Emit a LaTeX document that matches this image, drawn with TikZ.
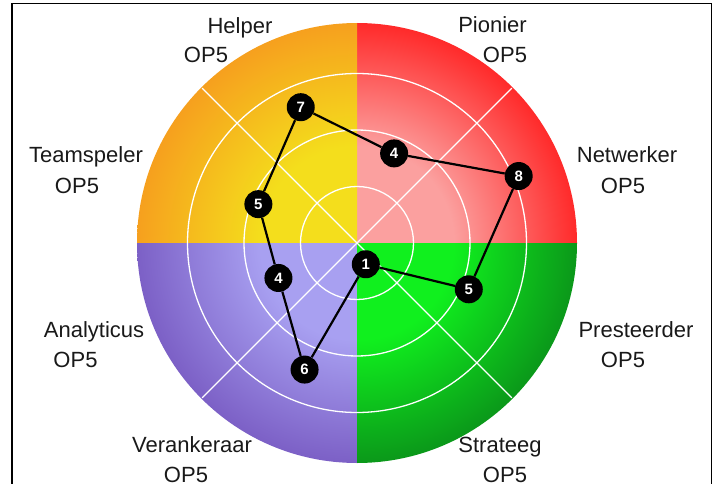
\documentclass[tikz,border=0pt]{standalone}
\usepackage{fontspec}
\setmainfont{Liberation Sans}

\definecolor{yellowin}{HTML}{F4DE1C}
\definecolor{yellowout}{HTML}{F6A01E}
\definecolor{redin}{HTML}{FBA09F}
\definecolor{redout}{HTML}{FF2A2A}
\definecolor{greenin}{HTML}{10F01E}
\definecolor{greenout}{HTML}{0B981A}
\definecolor{purplein}{HTML}{A8A0F1}
\definecolor{purpleout}{HTML}{7C60C6}

\pgfdeclareradialshading{yellowq}{\pgfpoint{0bp}{0bp}}{color(0bp)=(yellowin); color(11bp)=(yellowin); color(25bp)=(yellowout); color(50bp)=(yellowout)}
\pgfdeclareradialshading{redq}{\pgfpoint{0bp}{0bp}}{color(0bp)=(redin); color(11bp)=(redin); color(25bp)=(redout); color(50bp)=(redout)}
\pgfdeclareradialshading{greenq}{\pgfpoint{0bp}{0bp}}{color(0bp)=(greenin); color(11bp)=(greenin); color(25bp)=(greenout); color(50bp)=(greenout)}
\pgfdeclareradialshading{purpleq}{\pgfpoint{0bp}{0bp}}{color(0bp)=(purplein); color(11bp)=(purplein); color(25bp)=(purpleout); color(50bp)=(purpleout)}

\begin{document}
\begin{tikzpicture}
[x=1pt,y=1pt,%
  ring/.style={white,line width=1.3pt},%
  score/.style={circle,fill=black,text=white,minimum size=28pt,inner sep=0pt,%
    font=\fontsize{15}{15}\selectfont\bfseries},%
  link/.style={black,line width=2.2pt},%
  role/.style={anchor=base,text=black!90,font=\fontsize{22}{22}\selectfont}]
\useasboundingbox (0,0) rectangle (723,483);
\draw[line width=1.6pt] (12,-10) rectangle (711.5,479.5);
\begin{scope}[shift={(357,240)}]
  \foreach \a/\s in {0/redq,90/yellowq,180/purpleq,270/greenq}{
    \begin{scope}
      \clip (0,0) -- (\a:220) arc[start angle=\a,end angle=\a+90,radius=220] -- cycle;
      \shade[shading=\s] (0,0) circle[radius=220];
    \end{scope}
  }
  \foreach \r in {56.5,113,169.5}
    \draw[ring] (0,0) circle[radius=\r];
  \draw[ring] (135:219) -- (-45:219);
  \draw[ring] (45:219) -- (-135:219);

  \node[score] (helper) at (112.5:147) {7};
  \node[score] (pionier) at (67.5:97) {4};
  \node[score] (netwerker) at (22.5:175) {8};
  \node[score] (presteerder) at (-22.5:121) {5};
  \node[score] (strateeg) at (-67.5:23) {1};
  \node[score] (verankeraar) at (-112.5:137) {6};
  \node[score] (analyticus) at (-156:86) {4};
  \node[score] (teamspeler) at (158.5:106) {5};
  \draw[link] (helper) -- (pionier) -- (netwerker) -- (presteerder) -- (strateeg)
    -- (verankeraar) -- (analyticus) -- (teamspeler) -- (helper);

  \node[role] (helpername) at (-117,209) {Helper};
  \node[role] (helperop) at (-151,180) {OP5};
  \node[role] (pioniername) at (135.5,210) {Pionier};
  \node[role] (pionierop) at (148,180) {OP5};
  \node[role] (netwerkername) at (270,80) {Netwerker};
  \node[role] (netwerkerop) at (266,50) {OP5};
  \node[role] (presteerdername) at (279,-94) {Presteerder};
  \node[role] (presteerderop) at (266,-124) {OP5};
  \node[role] (strateegname) at (143,-209) {Strateeg};
  \node[role] (strateegop) at (148,-239) {OP5};
  \node[role] (verankeraarname) at (-165,-209) {Verankeraar};
  \node[role] (verankeraarop) at (-171,-239) {OP5};
  \node[role] (analyticusname) at (-263,-94.5) {Analyticus};
  \node[role] (analyticusop) at (-281.5,-124.5) {OP5};
  \node[role] (teamspelername) at (-271,80) {Teamspeler};
  \node[role] (teamspelerop) at (-280,50) {OP5};
\end{scope}
\end{tikzpicture}
\end{document}
